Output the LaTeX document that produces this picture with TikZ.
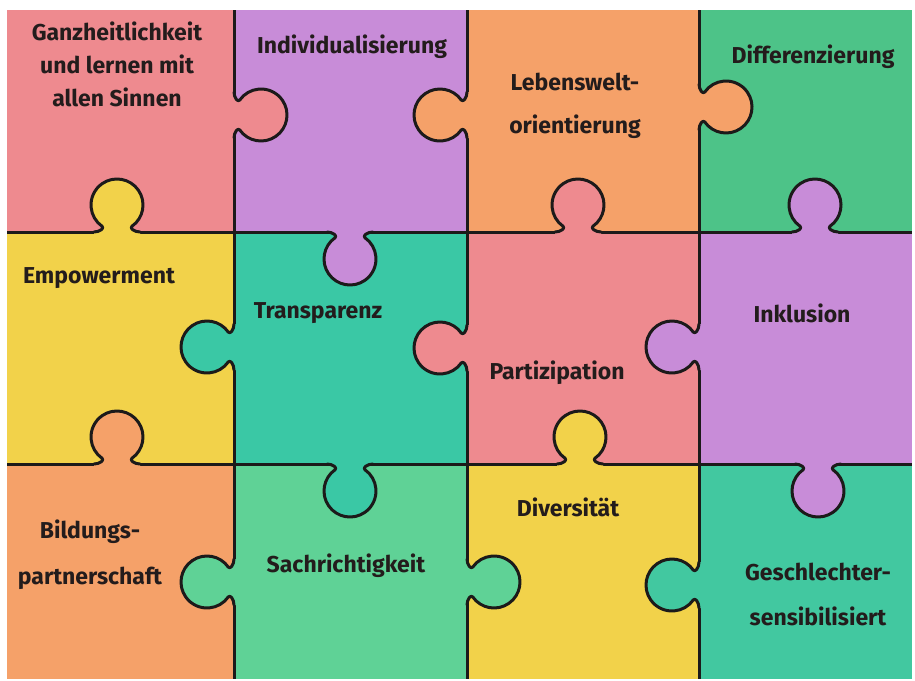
\documentclass[tikz,border=0pt]{standalone}
\usepackage{fontspec}
\setmainfont{Fira Sans}
\definecolor{pinkA}{HTML}{EE8A8F}
\definecolor{purpleA}{HTML}{C88CD8}
\definecolor{orangeA}{HTML}{F5A169}
\definecolor{greenA}{HTML}{4DC388}
\definecolor{yellowA}{HTML}{F2D24A}
\definecolor{tealA}{HTML}{3AC8A5}
\definecolor{greenB}{HTML}{5FD296}
\definecolor{tealB}{HTML}{42C8A0}
\definecolor{outline}{HTML}{1C1A1A}
\definecolor{ink}{HTML}{231C1C}
\tikzset{
  gridline/.style={line width=3pt, draw=outline, line cap=butt},
  taboutline/.style={line width=3pt, draw=outline, line cap=round, line join=round},
  lbl/.style={font=\bfseries\fontsize{23}{33}\selectfont, text=ink, align=center, inner sep=0pt},
}
\newcommand{\puzzletab}[4]{%
  \begin{scope}[shift={(#1,#2)}, rotate=#3]
    \fill[#4] (-23,-2.6) -- (-23,0) .. controls (-17,0) and (-12.4,4) .. (-14.91,5.7)
      arc[start angle=235, end angle=-55, radius=26]
      .. controls (12.4,4) and (17,0) .. (23,0) -- (23,-2.6) -- cycle;
    \draw[taboutline] (-23,0) .. controls (-17,0) and (-12.4,4) .. (-14.91,5.7)
      arc[start angle=235, end angle=-55, radius=26]
      .. controls (12.4,4) and (17,0) .. (23,0);
  \end{scope}}
\begin{document}
\begin{tikzpicture}[x=1pt,y=-1pt]
\useasboundingbox (0,0) rectangle (915,680);
% pieces
\fill[pinkA]   (7,10)    rectangle (234,232);
\fill[purpleA] (234,10)  rectangle (467,232);
\fill[orangeA] (467,10)  rectangle (699,232);
\fill[greenA]  (699,10)  rectangle (912,232);
\fill[yellowA] (7,232)   rectangle (234,464);
\fill[tealA]   (234,232) rectangle (467,464);
\fill[pinkA]   (467,232) rectangle (699,464);
\fill[purpleA] (699,232) rectangle (912,464);
\fill[orangeA] (7,464)   rectangle (234,679);
\fill[greenB]  (234,464) rectangle (467,679);
\fill[yellowA] (467,464) rectangle (699,679);
\fill[tealB]   (699,464) rectangle (912,679);
% grid
\draw[gridline] (234,10) -- (234,679);
\draw[gridline] (467,10) -- (467,679);
\draw[gridline] (699,10) -- (699,679);
\draw[gridline] (7,232) -- (912,232);
\draw[gridline] (7,464) -- (912,464);
% tabs on first horizontal line
\puzzletab{117}{232}{180}{yellowA}
\puzzletab{350}{232}{0}{purpleA}
\puzzletab{578}{232}{180}{pinkA}
\puzzletab{815}{232}{180}{purpleA}
% tabs on second horizontal line
\puzzletab{117}{464}{180}{orangeA}
\puzzletab{350}{464}{0}{tealA}
\puzzletab{580}{464}{180}{yellowA}
\puzzletab{818}{464}{0}{purpleA}
% tabs on vertical lines
\puzzletab{234}{115}{90}{pinkA}
\puzzletab{234}{347}{-90}{tealA}
\puzzletab{234}{582}{-90}{greenB}
\puzzletab{467}{115}{-90}{orangeA}
\puzzletab{467}{348}{-90}{pinkA}
\puzzletab{467}{582}{90}{greenB}
\puzzletab{699}{107}{90}{orangeA}
\puzzletab{699}{347}{-90}{purpleA}
\puzzletab{699}{585}{-90}{tealB}
% labels
\node[lbl] (ganz) at (117,64) {Ganzheitlichkeit\\und lernen mit\\allen Sinnen};
\node[lbl] (indiv) at (352,47) {Individualisierung};
\node[lbl, font=\bfseries\fontsize{23}{43}\selectfont] (leben) at (575,106) {Lebenswelt-\\orientierung};
\node[lbl] (diff) at (813,57) {Differenzierung};
\node[lbl] (empo) at (99,278) {Empowerment};
\node[lbl] (trans) at (318,313) {Transparenz};
\node[lbl] (parti) at (557,373) {Partizipation};
\node[lbl] (inkl) at (802,313) {Inklusion};
\node[lbl, font=\bfseries\fontsize{23}{46}\selectfont] (bild) at (90,555) {Bildungs-\\partnerschaft};
\node[lbl] (sach) at (346,566) {Sachrichtigkeit};
\node[lbl] (diver) at (568,507) {Diversität};
\node[lbl, font=\bfseries\fontsize{23}{45}\selectfont] (gesch) at (818,594) {Geschlechter-\\sensibilisiert};
\end{tikzpicture}
\end{document}
